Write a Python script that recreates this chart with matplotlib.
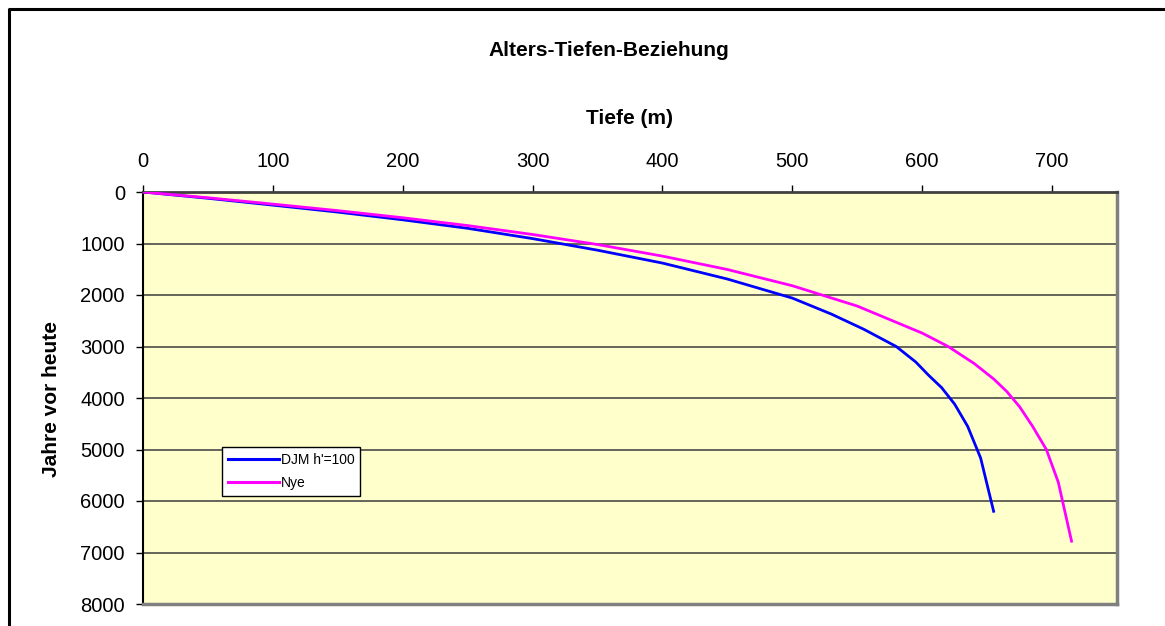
import matplotlib
matplotlib.use("Agg")
import matplotlib.pyplot as plt
from matplotlib.lines import Line2D

plt.rcParams['font.family'] = ['Liberation Sans', 'DejaVu Sans']

# ---- data (read / estimated from the reference) ----
djm_depth = [0, 50, 100, 150, 200, 250, 300, 350, 400, 450, 500, 530, 555, 580, 595, 605, 615, 625, 635, 645, 655]
djm_age = [0, 122, 255, 390, 540, 705, 905, 1130, 1380, 1690, 2060, 2370, 2665, 3000, 3300, 3560, 3800, 4120, 4550, 5166, 6200]

nye_depth = [0, 50, 100, 150, 200, 250, 300, 350, 400, 450, 500, 550, 600, 620, 640, 655, 665, 675, 685, 695.6, 704.8, 715]
nye_age = [0, 112, 235, 362, 500, 652, 825, 1020, 1245, 1505, 1820, 2215, 2740, 3000, 3330, 3630, 3870, 4170, 4550, 5000, 5636, 6780]

series_labels = ["DJM h'=100", "Nye"]
x_ticks = [0, 100, 200, 300, 400, 500, 600, 700]
y_ticks = [0, 1000, 2000, 3000, 4000, 5000, 6000, 7000, 8000]

W, H = 1165, 626
fig = plt.figure(figsize=(W / 100, H / 100), dpi=100)
fig.patch.set_facecolor('white')

def fx(px):
    return px / W

def fy(py):
    return 1 - py / H

# outer chart frame
fig.add_artist(Line2D([fx(9), fx(9), fx(1170)], [fy(640), fy(9), fy(9)],
                      transform=fig.transFigure, color='black', lw=2.2))

ax = fig.add_axes([fx(143), fy(604), fx(1117) - fx(143), fy(192) - fy(604)])
ax.set_facecolor('#FFFFCC')

ax.plot(djm_depth, djm_age, color='#0000FF', lw=2.0, label=series_labels[0], zorder=3)
ax.plot(nye_depth, nye_age, color='#FF00FF', lw=2.0, label=series_labels[1], zorder=4)

ax.set_xlim(0, 750)
ax.set_ylim(8000, 0)
ax.set_xticks(x_ticks)
ax.set_yticks(y_ticks)
ax.xaxis.tick_top()
ax.tick_params(axis='x', direction='out', length=5, width=1, pad=10, labelsize=14.5, colors='black')
ax.tick_params(axis='y', direction='out', length=5, width=1, pad=8, labelsize=14.5, colors='black')

for yv in y_ticks[1:-1]:
    ax.axhline(yv, color='#3a3a3a', lw=1.1, zorder=1)

ax.spines['left'].set_color('black')
ax.spines['left'].set_linewidth(1.5)
ax.spines['top'].set_color('#404040')
ax.spines['top'].set_linewidth(2)
ax.spines['right'].set_color('#808080')
ax.spines['right'].set_linewidth(2.5)
ax.spines['bottom'].set_color('#808080')
ax.spines['bottom'].set_linewidth(2.5)

fig.text(fx(609), fy(51), "Alters-Tiefen-Beziehung", ha='center', va='center',
         fontsize=15, fontweight='bold')
fig.text(fx(630), fy(119), "Tiefe (m)", ha='center', va='center',
         fontsize=15, fontweight='bold')
fig.text(fx(52), fy(399), "Jahre vor heute", ha='center', va='center',
         rotation=90, fontsize=15, fontweight='bold')

leg = ax.legend(loc='upper left', bbox_to_anchor=(fx(222), fy(447)),
                bbox_transform=fig.transFigure, borderaxespad=0,
                fontsize=10, handlelength=3.7, handletextpad=0.15,
                labelspacing=0.7, borderpad=0.4, fancybox=False,
                framealpha=1, edgecolor='black')
leg.get_frame().set_linewidth(1.0)
for ln in leg.get_lines():
    ln.set_linewidth(2.2)

fig.savefig('out.png', dpi=100)
